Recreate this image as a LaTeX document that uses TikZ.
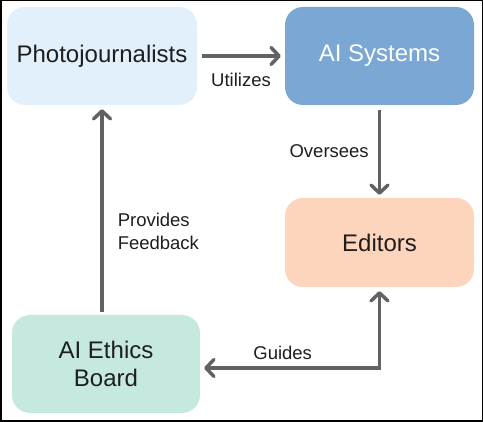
\documentclass[tikz,border=0pt]{standalone}
\usepackage{fontspec}
\setmainfont{Liberation Sans}
\usetikzlibrary{arrows.meta}
\definecolor{photofill}{HTML}{E1F0FB}
\definecolor{sysfill}{HTML}{7BA7D4}
\definecolor{editfill}{HTML}{FDD4BC}
\definecolor{ethicsfill}{HTML}{C6E9DF}
\definecolor{arrowgray}{HTML}{626262}
\definecolor{textgray}{HTML}{1E1E1E}
\tikzset{
  box/.style={rectangle, rounded corners=18pt, text=textgray, align=center,
    font=\fontsize{24}{28}\selectfont},
  link/.style={draw=arrowgray, line width=3.5pt,
    -{Straight Barb[length=8pt,width=17pt,round]}},
  linktext/.style={inner sep=0pt, text=textgray, font=\fontsize{18.5}{23}\selectfont}
}
\begin{document}
\begin{tikzpicture}[x=1pt,y=-1pt]
		\useasboundingbox (0,0) rectangle (483,422);
		\draw[line width=1.5pt] (0.75,0.75) rectangle (482.25,421.25);
		\node[box, fill=photofill, minimum width=190pt, minimum height=98pt] (photo) at (102,56) {Photojournalists};
		\node[box, fill=sysfill, text=white, minimum width=189pt, minimum height=98pt] (aisys) at (379.5,56) {AI Systems};
		\node[box, fill=editfill, minimum width=189pt, minimum height=89pt] (editors) at (379.5,242.5) {Editors};
		\node[box, fill=ethicsfill, minimum width=188pt, minimum height=98pt] (ethics) at (106,364) {AI Ethics\\Board};
		\draw[link, shorten <=5pt, shorten >=4pt] (photo.east) -- (aisys.west)
			node[linktext, midway, below=15pt] (utilizes) {Utilizes};
		\draw[link, shorten <=5pt, shorten >=3pt] (aisys.south) -- (editors.north)
			node[linktext, midway, left=9pt] (oversees) {Oversees};
		\draw[link, shorten <=3pt, shorten >=4pt] (photo.south |- ethics.north) -- (photo.south)
			node[linktext, pos=0.4, right=14pt, align=left] (feedback) {Provides\\Feedback};
		\draw[link, {Straight Barb[length=8pt,width=17pt,round]}-{Straight Barb[length=8pt,width=17pt,round]}, shorten <=4pt, shorten >=4pt] (editors.south) |- ([yshift=-4pt]ethics.east)
			node[linktext, pos=0.77, above=7pt] (guides) {Guides};
		\end{tikzpicture}
\end{document}
